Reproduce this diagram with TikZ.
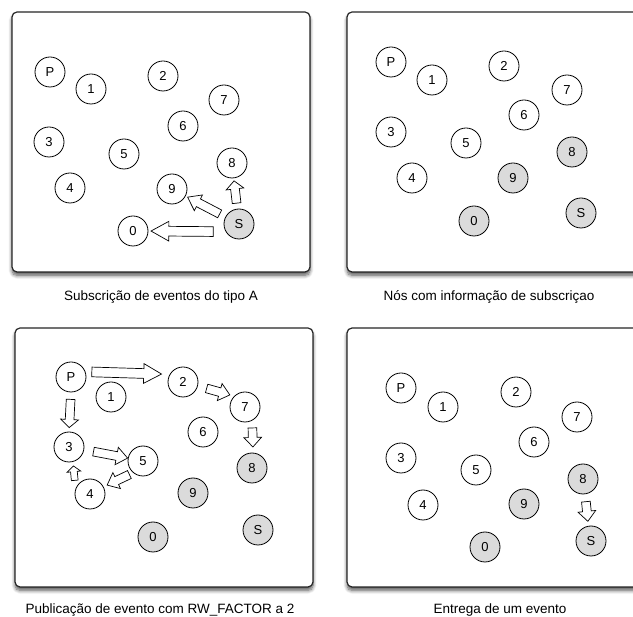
\documentclass[tikz,border=0pt]{standalone}
\usepackage{fontspec}
\setmainfont{Liberation Sans}
\usepackage{tikz}
\usetikzlibrary{shapes.geometric, shapes.arrows, calc, shadows.blur}
\tikzstyle{peer} = [circle, minimum size=30pt, inner sep=0pt, draw=black, line width=0.8pt, fill=white, font=\fontsize{13}{15}\selectfont]
\tikzstyle{subpeer} = [peer, fill=black!14]
\tikzstyle{panel} = [draw=black!85, line width=1.2pt, fill=white, rounded corners=5pt, blur shadow={shadow xshift=0pt, shadow yshift=-3.5pt, shadow blur steps=8, shadow blur radius=3.5pt, shadow opacity=65}]
\tikzstyle{caption} = [font=\fontsize{13.5}{16}\selectfont, inner sep=0pt]
\tikzstyle{arrowbox} = [single arrow, draw=black, line width=0.7pt, fill=white, inner xsep=0pt, inner ysep=4pt, single arrow head extend=4.5pt]
\tikzset{msg/.style n args={3}{to path={let \p1=(\tikztostart), \p2=(\tikztotarget),
      \n1={atan2(\y2-\y1,\x2-\x1)}, \n2={veclen(\x2-\x1,\y2-\y1)-#1-#2},
      \p3=({\x1+(#1+0.5*\n2)*cos(\n1)},{\y1+(#1+0.5*\n2)*sin(\n1)}) in
      node[arrowbox, single arrow tip angle=#3, minimum height=\n2, rotate=\n1] at (\p3) {}}}}

\begin{document}
\begin{tikzpicture}[x=1pt, y=-1pt]
    \useasboundingbox (0,0) rectangle (633,617);
    % Panels
    \draw [panel] (12,12) rectangle (310,272);
    \draw [panel] (347,12) rectangle (670,272);
    \draw [panel] (15,328) rectangle (313,587);
    \draw [panel] (347,328) rectangle (670,587);

    % Subscricao
    \node (aP) [peer] at (50,72) {P};
    \node (a1) [peer] at (91,89) {1};
    \node (a2) [peer] at (163,76) {2};
    \node (a7) [peer] at (224,100) {7};
    \node (a6) [peer] at (183,126) {6};
    \node (a3) [peer] at (49,142) {3};
    \node (a5) [peer] at (124,154) {5};
    \node (a8) [peer] at (232,163) {8};
    \node (a4) [peer] at (70,188) {4};
    \node (a9) [peer] at (172,189) {9};
    \node (aS) [subpeer] at (239,224) {S};
    \node (a0) [peer] at (133,231) {0};
    \draw [msg={8}{7}{58}, arrowbox/.append style={inner ysep=4.5pt, single arrow head extend=5pt}] (aS.210) to (a0.east);
    \draw [msg={18.8}{20.6}{72}] (aS) to (a9);
    \draw [msg={19}{20}{95}] (aS) to (a8);
    \node (capA) [caption] at (161,297) {Subscrição de eventos do tipo A};

    % Nos com subscricao
    \node (bP) [peer] at (391,62) {P};
    \node (b1) [peer] at (432,80) {1};
    \node (b2) [peer] at (504,66) {2};
    \node (b7) [peer] at (567,90) {7};
    \node (b6) [peer] at (524,115) {6};
    \node (b3) [peer] at (391,132) {3};
    \node (b5) [peer] at (466,143) {5};
    \node (b8) [subpeer] at (572,152) {8};
    \node (b4) [peer] at (412,178) {4};
    \node (b9) [subpeer] at (513,178) {9};
    \node (b0) [subpeer] at (474,221) {0};
    \node (bS) [subpeer] at (581,213) {S};
    \node (capB) [caption] at (489,297) {Nós com informação de subscriçao};

    % Publicacao
    \node (cP) [peer] at (71,377) {P};
    \node (c1) [peer] at (111,397) {1};
    \node (c2) [peer] at (183,382) {2};
    \node (c7) [peer] at (245,407) {7};
    \node (c6) [peer] at (203,432) {6};
    \node (c3) [peer] at (69,447) {3};
    \node (c5) [peer] at (143,461) {5};
    \node (c8) [subpeer] at (252,468) {8};
    \node (c4) [peer] at (90,494) {4};
    \node (c9) [subpeer] at (193,493) {9};
    \node (c0) [subpeer] at (153,537) {0};
    \node (cS) [subpeer] at (258,530) {S};
    \draw [msg={2}{12.5}{58}, arrowbox/.append style={inner ysep=4.5pt, single arrow head extend=5pt}] (cP.20) to (c2.150);
    \draw [msg={6.5}{7}{80}] (c2.345) to (c7.135);
    \draw [msg={5}{8}{86}] (c7.-62) to (c8.86);
    \draw [msg={5}{6}{95}] (cP.south) to (c3.north);
    \draw [msg={22.2}{18.4}{77}] (c3) to (c5);
    \draw [msg={1.5}{6.5}{80}] (c5.-130) to (c4.28);
    \draw [msg={7}{5.5}{100}, arrowbox/.append style={inner ysep=3pt, single arrow head extend=3.5pt}] (c4.160) to (c3.-75);
    \node (capC) [caption] at (160,610) {Publicação de evento com RW\_FACTOR a 2};

    % Entrega
    \node (dP) [peer] at (401,388) {P};
    \node (d1) [peer] at (443,407) {1};
    \node (d2) [peer] at (516,392) {2};
    \node (d7) [peer] at (577,417) {7};
    \node (d6) [peer] at (534,442) {6};
    \node (d3) [peer] at (401,458) {3};
    \node (d5) [peer] at (476,470) {5};
    \node (d8) [subpeer] at (583,479) {8};
    \node (d4) [peer] at (423,505) {4};
    \node (d9) [subpeer] at (524,504) {9};
    \node (d0) [subpeer] at (485,547) {0};
    \node (dS) [subpeer] at (591,541) {S};
    \draw [msg={5}{7}{83}] (d8.-82) to (dS.100);
    \node (capD) [caption] at (500,610) {Entrega de um evento};
\end{tikzpicture}
\end{document}
